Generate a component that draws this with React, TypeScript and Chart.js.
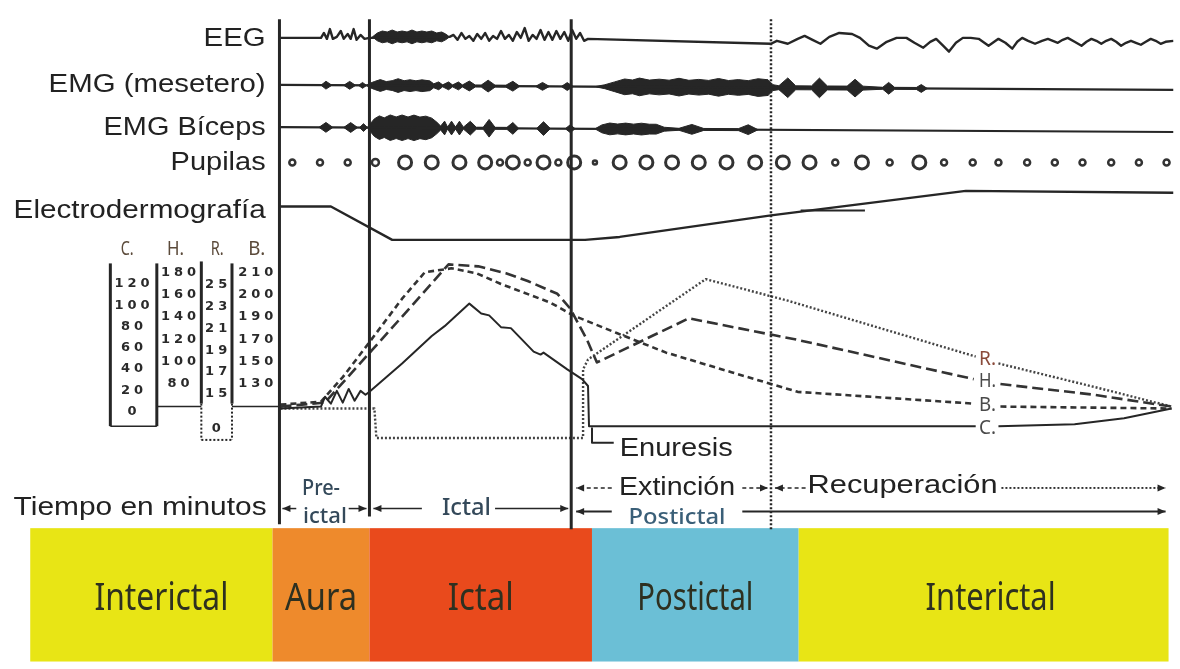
import React, { useEffect, useRef } from 'react';
import { Chart, registerables } from 'chart.js';

Chart.register(...registerables);

type Pt = [number, number | null];

// ---------------- Phase bands (time axis) ----------------
const PHASE_NAMES = ['Interictal', 'Aura', 'Ictal', 'Postictal', 'Interictal'];
const PHASE_FROM = [24, 269, 367, 592, 801];
const PHASE_TO = [269, 367, 592, 801, 1175];
const PHASE_COLORS = ['#E8E515', '#EE8A2C', '#E94A1C', '#6BBFD6', '#E8E515'];

// Event markers on the time axis
const SOLID_MARKERS = [276, 367, 571];
const RECOVERY_MARKER = 773;

// ---------------- Trace rows ----------------
const TRACE_LABELS = ['EEG', 'EMG (mesetero)', 'EMG Bíceps', 'Pupilas', 'Electrodermografía'];
const TRACE_LEVEL = [32, 79, 123, 159, 208];

const EEG_TRACE: Pt[] = [
  [277, 32], [318, 32], [321, 27], [324, 33], [327, 23], [330, 33], [334, 31], [338, 25], [341, 33],
  [345, 28], [348, 33], [351, 23], [354, 34], [358, 29], [362, 33], [367, 32], [448, 31],
  [452, 29], [456, 34], [460, 27], [464, 33], [468, 30], [472, 35], [476, 28], [480, 33], [484, 27],
  [488, 35], [492, 30], [496, 33], [500, 25], [504, 33], [508, 29], [512, 35], [516, 26], [520, 32],
  [524, 22], [528, 35], [532, 29], [536, 33], [540, 24], [544, 34], [548, 26], [552, 34], [556, 25],
  [560, 33], [564, 26], [568, 35], [572, 24], [576, 33], [580, 27], [584, 35], [588, 33], [773, 38],
  [779, 35], [790, 38], [800, 33], [807, 30], [815, 34], [823, 38], [832, 31], [842, 27], [855, 28],
  [863, 32], [872, 40], [880, 43], [890, 36], [900, 32], [910, 32], [918, 37], [927, 42], [934, 36],
  [940, 33], [947, 40], [953, 46], [960, 37], [967, 32], [975, 32], [983, 33], [993, 40], [1003, 33],
  [1010, 37], [1017, 43], [1022, 36], [1027, 32], [1033, 35], [1040, 38], [1047, 35], [1053, 33],
  [1058, 35], [1063, 37], [1068, 34], [1073, 32], [1080, 36], [1087, 40], [1092, 36], [1097, 33],
  [1102, 35], [1107, 38], [1112, 35], [1117, 33], [1122, 36], [1127, 40], [1132, 37], [1137, 35],
  [1142, 37], [1147, 39], [1152, 36], [1157, 33], [1162, 35], [1167, 38], [1172, 36], [1180, 35],
];
// dense EEG burst: [time, half-amplitude]
const EEG_BURST: [number, number][] = [
  [370, 0], [375, 4], [380, 6], [385, 5], [390, 7], [395, 5], [400, 6], [405, 5], [410, 7], [415, 5],
  [420, 6], [425, 5], [430, 6], [435, 4], [440, 5], [444, 3], [448, 0],
];
const EEG_BURST_BASE: [number, number] = [31, 31];

// EMG envelopes: [time, half-amplitude]
const EMG_MASSETER_BASE: [number, number] = [80, 85];
const EMG_MASSETER: [number, number][] = [
  [318, 0], [323, 4], [329, 0], [341, 0], [347, 4], [353, 0], [356, 0], [360, 3], [364, 0], [367, 2],
  [372, 4], [378, 6], [384, 4], [390, 5], [396, 7], [402, 5], [408, 6], [414, 5], [420, 6], [428, 5], [432, 2], [437, 4], [441, 1],
  [447, 4], [451, 1], [457, 4], [461, 1], [468, 5], [474, 1], [480, 1], [487, 6], [494, 1], [505, 1],
  [512, 5], [519, 0], [535, 0], [542, 4], [549, 0], [561, 0], [567, 4], [573, 0], [595, 0], [605, 2],
  [615, 5], [625, 8], [633, 7], [640, 9], [650, 7], [660, 8], [670, 7], [680, 9], [690, 7], [700, 8],
  [710, 7], [720, 9], [730, 7], [740, 8], [750, 7], [760, 9], [770, 8],
  [775, 3], [781, 2], [790, 10], [798, 2], [814, 2], [822, 10], [830, 2], [850, 2], [858, 9], [866, 2],
  [886, 1], [892, 6], [898, 1], [920, 1], [925, 4], [931, 0],
];
const EMG_BICEPS_BASE: [number, number] = [123, 128];
const EMG_BICEPS: [number, number][] = [
  [316, 0], [323, 5], [330, 0], [341, 0], [348, 5], [355, 0], [357, 0], [361, 4], [365, 0], [367, 3],
  [372, 9], [377, 12], [382, 10], [388, 13], [394, 11], [400, 13], [406, 11], [412, 13], [418, 11], [424, 12], [430, 10], [435, 6], [439, 2],
  [443, 7], [446, 1], [450, 7], [454, 1], [458, 7], [462, 1], [469, 7], [475, 1], [482, 1], [488, 9],
  [494, 1], [506, 1], [512, 6], [518, 0], [536, 0], [543, 7], [550, 0], [565, 0], [570, 4], [575, 0],
  [595, 0], [602, 4], [610, 6], [618, 5], [626, 6], [634, 5], [642, 6], [650, 5], [657, 5], [665, 2], [680, 1], [693, 5], [705, 1],
  [740, 1], [750, 5], [760, 0],
];

// Pupils: time and size
const PUPIL_TIME = [
  289, 317, 345, 373, 403, 430, 458, 484, 499, 512, 527, 543, 558, 574, 595, 620, 647, 673, 700, 728,
  757, 785, 812, 838, 865, 893, 923, 948, 977, 1003, 1032, 1060, 1088, 1117, 1145, 1173,
];
const PUPIL_SIZE = [
  3, 3, 3, 3.5, 6.5, 6.5, 6.5, 6.5, 3, 6.5, 3, 6.5, 3, 6.5, 2, 6.5, 6.5, 6.5, 6.5, 6.5,
  6.5, 6.5, 6.5, 3, 6.5, 3, 6.5, 3, 3, 3, 3, 3, 3, 3, 3, 3,
];

const EDG_TRACE: Pt[] = [[277, 204], [328, 204], [390, 238], [585, 238], [620, 235], [773, 213], [970, 188], [1180, 190]];
const EDG_STUB: Pt[] = [[803, 208], [868, 208]];

// ---------------- Vital signs ----------------
const SCALE_HEADERS = ['C.', 'H.', 'R.', 'B.'];
const C_TICKS = ['120', '100', '80', '60', '40', '20', '0'];
const H_TICKS = ['180', '160', '140', '120', '100', '80'];
const R_TICKS = ['25', '23', '21', '19', '17', '15'];
const R_ZERO = '0';
const B_TICKS = ['210', '200', '190', '170', '150', '130'];

const C_CURVE: Pt[] = [
  [277, 410], [318, 408], [322, 398], [328, 405], [334, 392], [340, 404], [346, 390], [352, 402],
  [358, 392], [363, 396], [367, 393], [400, 364], [430, 336], [443, 326], [468, 303], [480, 313],
  [488, 315], [500, 327], [510, 328], [533, 352], [540, 355], [543, 353], [567, 370], [582, 380],
  [588, 387], [589, 428], [980, 428], [990, null], [1003, 428], [1080, 426], [1130, 420], [1178, 410],
];
const H_CURVE: Pt[] = [
  [277, 408], [322, 404], [345, 378], [370, 350], [410, 305], [447, 263], [477, 265], [505, 272],
  [527, 280], [557, 293], [570, 308], [587, 340], [597, 363], [690, 318], [800, 340], [978, 380],
  [990, null], [1005, 385], [1100, 396], [1178, 408],
];
const B_CURVE: Pt[] = [
  [277, 406], [318, 403], [340, 378], [365, 345], [400, 298], [423, 271], [450, 267], [475, 272],
  [500, 283], [550, 302], [573, 315], [617, 333], [667, 353], [733, 373], [800, 393], [978, 405],
  [990, null], [1005, 408], [1178, 410],
];
const R_CURVE: Pt[] = [
  [277, 410], [372, 410], [374, 440], [583, 440], [583, 370], [588, 360], [707, 278], [790, 300],
  [980, 357], [990, null], [1003, 364], [1100, 388], [1178, 408],
];
const ENURESIS_MARK: Pt[] = [[592, 430], [592, 445], [614, 445]];
const CURVE_LABELS = ['R.', 'H.', 'B.', 'C.'];
const CURVE_LABEL_LEVEL = [360, 382, 407, 430];

const INK = '#262626';
const SANS = '"Liberation Sans", Arial, sans-serif';
const COND = '"Noto Sans", "Open Sans", sans-serif';

const toXY = (pts: Pt[]) => pts.map(([x, y]) => ({ x, y }));
const baseAt = (b: [number, number], x: number) => b[0] + ((b[1] - b[0]) * (x - 277)) / (1180 - 277);
const envelope = (env: [number, number][], b: [number, number], sign: number) =>
  env.map(([x, a]) => ({ x, y: baseAt(b, x) + sign * a }));

function lineDs(data: any[], extra: any = {}) {
  return {
    data,
    borderColor: INK,
    backgroundColor: INK,
    borderWidth: 2,
    pointRadius: 0,
    tension: 0,
    fill: false,
    borderJoinStyle: 'round',
    ...extra,
  };
}

function drawText(ctx: CanvasRenderingContext2D, s: string, x: number, y: number, font: string, color: string, align: CanvasTextAlign, width?: number) {
  ctx.save();
  ctx.font = font;
  ctx.fillStyle = color;
  ctx.textBaseline = 'middle';
  ctx.textAlign = align;
  const w = ctx.measureText(s).width;
  const sx = width ? width / w : 1;
  ctx.translate(x, y);
  ctx.scale(sx, 1);
  ctx.fillText(s, 0, 0);
  ctx.restore();
}

function seg(ctx: CanvasRenderingContext2D, x1: number, y1: number, x2: number, y2: number, w: number, dash: number[] = []) {
  ctx.save();
  ctx.strokeStyle = INK;
  ctx.lineWidth = w;
  ctx.setLineDash(dash);
  ctx.beginPath();
  ctx.moveTo(x1, y1);
  ctx.lineTo(x2, y2);
  ctx.stroke();
  ctx.restore();
}

function head(ctx: CanvasRenderingContext2D, x: number, y: number, dir: number) {
  ctx.save();
  ctx.fillStyle = INK;
  ctx.beginPath();
  ctx.moveTo(x, y);
  ctx.lineTo(x - dir * 8, y - 3.5);
  ctx.lineTo(x - dir * 8, y + 3.5);
  ctx.closePath();
  ctx.fill();
  ctx.restore();
}

const diagramPlugin = {
  id: 'diagram',
  beforeDraw(chart: any) {
    const { ctx, width, height } = chart;
    ctx.save();
    ctx.fillStyle = '#ffffff';
    ctx.fillRect(0, 0, width, height);
    ctx.restore();
  },
  beforeDatasetsDraw(chart: any) {
    const ctx: CanvasRenderingContext2D = chart.ctx;
    const X = (v: number) => chart.scales.x.getPixelForValue(v);
    const Y = (v: number) => chart.scales.y.getPixelForValue(v);
    // phase bands
    PHASE_NAMES.forEach((name, i) => {
      const x1 = X(PHASE_FROM[i]);
      const x2 = X(PHASE_TO[i]);
      ctx.fillStyle = PHASE_COLORS[i];
      ctx.fillRect(x1, Y(532), x2 - x1, Y(668) - Y(532));
      const widths = [134, 72, 66, 116, 130];
      drawText(ctx, name, (x1 + x2) / 2 + (i === 0 ? 10 : i === 4 ? 7 : 0), Y(604), `38px ${COND}`, '#2e3020', 'center', widths[i]);
    });
    // vital scale frames
    const solid = [[105, 262, 105, 428], [152, 262, 152, 428], [197, 260, 197, 405], [228, 262, 228, 405]];
    solid.forEach(([a, b, c, d]) => seg(ctx, X(a), Y(b), X(c), Y(d), 3));
    const dotted = [[197, 405, 197, 442], [228, 405, 228, 442], [197, 442, 228, 442]];
    dotted.forEach(([a, b, c, d]) => seg(ctx, X(a), Y(b), X(c), Y(d), 2, [2, 2]));
    const thin = [[105, 428, 152, 428], [152, 408, 197, 408], [228, 408, 276, 408]];
    thin.forEach(([a, b, c, d]) => seg(ctx, X(a), Y(b), X(c), Y(d), 1.6));
    // headers
    const hx = [122, 171, 213, 253];
    SCALE_HEADERS.forEach((h, i) => drawText(ctx, h, X(hx[i]), Y(248), `20px ${COND}`, '#5b4a3a', 'center', h === 'H.' || h === 'B.' ? 17 : 13));
    // ticks
    const col = (ticks: string[], cx: number, top: number, bottom: number) => {
      ticks.forEach((t, i) => {
        const yy = ticks.length > 1 ? top + ((bottom - top) * i) / (ticks.length - 1) : top;
        ctx.save();
        (ctx as any).letterSpacing = '4px';
        ctx.font = `bold 13px "DejaVu Sans", sans-serif`;
        ctx.fillStyle = '#2a2a2a';
        ctx.textAlign = 'center';
        ctx.textBaseline = 'middle';
        ctx.fillText(t, X(cx) + 2, Y(yy));
        ctx.restore();
      });
    };
    col(C_TICKS, 127, 283, 413);
    col(H_TICKS, 174, 271, 385);
    col(R_TICKS, 212, 284, 395);
    col([R_ZERO], 212, 430, 430);
    col(B_TICKS, 252, 271, 385);
  },
  afterDatasetsDraw(chart: any) {
    const ctx: CanvasRenderingContext2D = chart.ctx;
    const X = (v: number) => chart.scales.x.getPixelForValue(v);
    const Y = (v: number) => chart.scales.y.getPixelForValue(v);
    // markers
    const ends = [528, 520, 533];
    SOLID_MARKERS.forEach((m, i) => seg(ctx, X(m), Y(13), X(m), Y(ends[i]), 3));
    seg(ctx, X(RECOVERY_MARKER), Y(13), X(RECOVERY_MARKER), Y(533), 2.5, [2, 2]);
    // trace labels
    const lw = [62, 217, 162, 95, 252];
    TRACE_LABELS.forEach((t, i) => drawText(ctx, t, X(262), Y(TRACE_LEVEL[i] + 1), `25px ${SANS}`, '#222', 'right', lw[i]));
    // curve labels
    CURVE_LABELS.forEach((t, i) => drawText(ctx, t, X(992), Y(CURVE_LABEL_LEVEL[i]), `20px ${COND}`, i === 0 ? '#8a4a3a' : '#4a4a4a', 'center', 17));
    // texts
    drawText(ctx, 'Enuresis', X(620), Y(451), `25px ${SANS}`, '#222', 'left', 113);
    drawText(ctx, 'Tiempo en minutos', X(263), Y(512), `25px ${SANS}`, '#222', 'right', 253);
    drawText(ctx, 'Pre-', X(318), Y(492), `500 21px ${COND}`, '#34495a', 'center', 38);
    drawText(ctx, 'ictal', X(322), Y(521), `500 21px ${COND}`, '#34495a', 'center', 44);
    drawText(ctx, 'Ictal', X(465), Y(512), `500 23px ${COND}`, '#34495a', 'center', 49);
    drawText(ctx, 'Extinción', X(678), Y(491), `25px ${SANS}`, '#222', 'center', 116);
    drawText(ctx, 'Recuperación', X(906), Y(489), `25px ${SANS}`, '#222', 'center', 190);
    drawText(ctx, 'Postictal', X(678), Y(522), `500 21px ${COND}`, '#3a5f78', 'center', 97);
    // arrows
    const arr = (x1: number, x2: number, y: number, w: number, dash: number[]) => {
      seg(ctx, X(x1), Y(y), X(x2), Y(y), w, dash);
      head(ctx, X(x2), Y(y), x2 > x1 ? 1 : -1);
    };
    arr(293, 279, 512, 1.5, []);
    arr(346, 364, 512, 1.5, []);
    arr(420, 371, 512, 1.5, []);
    arr(494, 568, 512, 1.5, []);
    arr(612, 576, 491, 1.5, [4, 3]);
    arr(744, 770, 491, 1.5, [4, 3]);
    arr(808, 777, 491, 1.5, [4, 3]);
    arr(1006, 1172, 491, 1.8, [2, 2]);
    arr(612, 576, 515, 2, []);
    arr(744, 1172, 515, 2.2, []);
  },
};

export default function App() {
  const ref = useRef<HTMLCanvasElement | null>(null);
  useEffect(() => {
    if (!ref.current) return;
    const datasets: any[] = [
      lineDs(toXY(EEG_TRACE), { borderWidth: 2.4 }),
      lineDs(envelope(EEG_BURST, EEG_BURST_BASE, -1), { borderWidth: 1 }),
      lineDs(envelope(EEG_BURST, EEG_BURST_BASE, 1), { borderWidth: 1, fill: '-1' }),
      lineDs([{ x: 277, y: EMG_MASSETER_BASE[0] }, { x: 1180, y: EMG_MASSETER_BASE[1] }], { borderWidth: 2.2 }),
      lineDs(envelope(EMG_MASSETER, EMG_MASSETER_BASE, -1), { borderWidth: 1 }),
      lineDs(envelope(EMG_MASSETER, EMG_MASSETER_BASE, 1), { borderWidth: 1, fill: '-1' }),
      lineDs([{ x: 277, y: EMG_BICEPS_BASE[0] }, { x: 1180, y: EMG_BICEPS_BASE[1] }], { borderWidth: 2.2 }),
      lineDs(envelope(EMG_BICEPS, EMG_BICEPS_BASE, -1), { borderWidth: 1 }),
      lineDs(envelope(EMG_BICEPS, EMG_BICEPS_BASE, 1), { borderWidth: 1, fill: '-1' }),
      {
        data: PUPIL_TIME.map((x) => ({ x, y: TRACE_LEVEL[3] })),
        showLine: false,
        pointRadius: PUPIL_SIZE,
        pointStyle: 'circle',
        pointBackgroundColor: '#ffffff',
        pointBorderColor: '#333333',
        pointBorderWidth: PUPIL_SIZE.map((s) => (s > 4 ? 3 : 2.5)),
      },
      lineDs(toXY(EDG_TRACE), { borderWidth: 2.4 }),
      lineDs(toXY(EDG_STUB), { borderWidth: 2 }),
      lineDs(toXY(C_CURVE), { borderWidth: 2 }),
      lineDs(toXY(H_CURVE), { borderWidth: 2.6, borderDash: [11, 5], borderColor: '#333' }),
      lineDs(toXY(B_CURVE), { borderWidth: 2.6, borderDash: [6, 4], borderColor: '#333' }),
      lineDs(toXY(R_CURVE), { borderWidth: 2.4, borderDash: [2, 2], borderColor: '#444' }),
      lineDs(toXY(ENURESIS_MARK), { borderWidth: 2 }),
    ];
    const chart = new Chart(ref.current, {
      type: 'line',
      data: { datasets },
      options: {
        animation: false,
        responsive: false,
        devicePixelRatio: 1,
        layout: { padding: 0 },
        plugins: { legend: { display: false }, tooltip: { enabled: false } },
        scales: {
          x: { type: 'linear', min: 0, max: 1180, display: false },
          y: { type: 'linear', min: 0, max: 669, reverse: true, display: false },
        },
      },
      plugins: [diagramPlugin],
    } as any);
    return () => chart.destroy();
  }, []);
  return (
    <div style={{ position: 'absolute', left: 0, top: 0, width: 1180, height: 669, background: '#fff' }}>
      <canvas ref={ref} width={1180} height={669} style={{ display: 'block', width: 1180, height: 669 }} />
    </div>
  );
}
